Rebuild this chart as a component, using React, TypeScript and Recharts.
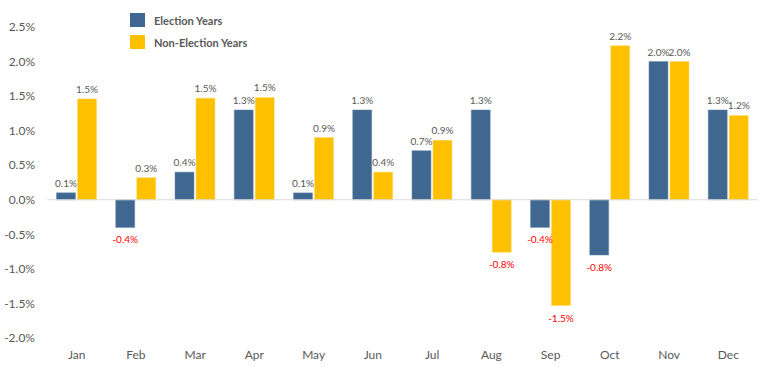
import React from "react";
import { BarChart, Bar, XAxis, YAxis, ReferenceLine, LabelList } from "recharts";

const months = ["Jan", "Feb", "Mar", "Apr", "May", "Jun", "Jul", "Aug", "Sep", "Oct", "Nov", "Dec"];
const electionYears = [0.1, -0.4, 0.4, 1.3, 0.1, 1.3, 0.71, 1.3, -0.4, -0.8, 2.0, 1.3];
const nonElectionYears = [1.46, 0.32, 1.47, 1.48, 0.9, 0.4, 0.86, -0.76, -1.53, 2.23, 2.0, 1.22];
const yTicks = [-2, -1.5, -1, -0.5, 0, 0.5, 1, 1.5, 2, 2.5];
const seriesNames = ["Election Years", "Non-Election Years"];

const data = months.map((m, i) => ({
  month: m,
  election: electionYears[i],
  nonElection: nonElectionYears[i],
}));

const FONT = "Lato, 'Liberation Sans', sans-serif";
const BLUE = "#3F6790";
const GOLD = "#FFC000";

const renderLabel = (props: any) => {
  const { x, y, width, height, value } = props;
  const top = Math.min(y, y + height);
  const bottom = Math.max(y, y + height);
  const cx = x + width / 2;
  const neg = value < 0;
  return (
    <text
      x={cx}
      y={neg ? bottom + 16 : top - 6}
      textAnchor="middle"
      fontSize={10}
      fontFamily={FONT}
      fill={neg ? "#FF0000" : "#595959"}
    >
      {`${Number(value).toFixed(1)}%`}
    </text>
  );
};

export default function App() {
  return (
    <div style={{ position: "absolute", left: 0, top: 0, width: 768, height: 372, background: "#fff" }}>
      <BarChart
        width={768}
        height={372}
        data={data}
        margin={{ top: 27, right: 10, bottom: 0, left: 0 }}
        barCategoryGap="16%"
        barGap={2}
      >
        <XAxis
          dataKey="month"
          axisLine={false}
          tickLine={false}
          height={34}
          tickMargin={6}
          tick={{ fill: "#595959", fontSize: 12, fontFamily: FONT }}
          interval={0}
        />
        <YAxis
          domain={[-2, 2.5]}
          ticks={yTicks}
          axisLine={false}
          tickLine={false}
          width={47}
          tickMargin={6}
          tickFormatter={(v: number) => `${v.toFixed(1)}%`}
          tick={{ fill: "#595959", fontSize: 12, fontFamily: FONT }}
        />
        <ReferenceLine y={0} stroke="#D9D9D9" strokeWidth={1} />
        <Bar dataKey="election" name={seriesNames[0]} fill={BLUE} stroke="#6f8fb0" strokeWidth={0.5} isAnimationActive={false}>
          <LabelList dataKey="election" content={renderLabel} />
        </Bar>
        <Bar dataKey="nonElection" name={seriesNames[1]} fill={GOLD} stroke="#ffd966" strokeWidth={0.5} isAnimationActive={false}>
          <LabelList dataKey="nonElection" content={renderLabel} />
        </Bar>
      </BarChart>
      <div
        style={{
          position: "absolute",
          left: 130,
          top: 9,
          fontFamily: FONT,
          fontSize: 11,
          fontWeight: 700,
          color: "#595959",
        }}
      >
        {[BLUE, GOLD].map((c, i) => (
          <div key={i} style={{ display: "flex", alignItems: "center", height: 22 }}>
            <span style={{ display: "inline-block", width: 15, height: 14, background: c, marginRight: 9 }} />
            <span>{seriesNames[i]}</span>
          </div>
        ))}
      </div>
    </div>
  );
}
